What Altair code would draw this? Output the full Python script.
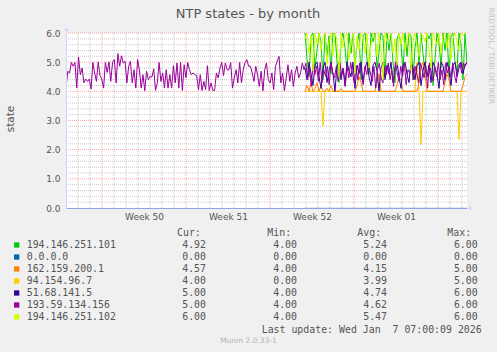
import altair as alt
import pandas as pd

# ---------------- data ----------------
TITLE = "NTP states - by month"
Y_LABEL = "state"
SERIES = ["194.146.251.101", "0.0.0.0", "162.159.200.1", "94.154.96.7",
          "51.68.141.5", "193.59.134.156", "194.146.251.102"]
COLORS = ["#00CC00", "#0066B3", "#FF8000", "#FFCC00", "#330099", "#990099", "#CCFF00"]
CUR = [4.92, 0.00, 4.57, 4.00, 5.00, 5.00, 6.00]
MIN = [4.00, 0.00, 4.00, 0.00, 4.00, 4.00, 4.00]
AVG = [5.24, 0.00, 4.15, 3.99, 4.74, 4.62, 5.47]
MAX = [6.00, 0.00, 5.00, 5.00, 6.00, 6.00, 6.00]
HEADERS = ["Cur:", "Min:", "Avg:", "Max:"]
LAST_UPDATE = "Last update: Wed Jan  7 07:00:09 2026"
VERSION = "Munin 2.0.33-1"
WATERMARK = "RRDTOOL / TOBI OETIKER"

# time axis: days since Fri 2025-12-05 00:00
X_END = 33.42
WEEK_STARTS = [3, 10, 17, 24, 31]          # Mondays 00:00
WEEK_CENTERS = [6.5, 13.5, 20.5, 27.5]
WEEK_LABELS = ["Week 50", "Week 51", "Week 52", "Week 01"]
Y_TICKS = [0, 1, 2, 3, 4, 5, 6]

# 193.59.134.156 : whole month
PURPLE_START, PURPLE_STEP = 0.0, 0.1492
PURPLE = [
    4.11, 4.69, 4.63, 4.99, 4.86, 4.99, 4.11, 5.18, 4.57, 4.80,
    4.29, 4.42, 4.34, 4.42, 4.08, 4.99, 4.63, 4.34, 5.01, 4.54,
    4.42, 4.11, 4.99, 4.65, 5.01, 4.34, 4.99, 5.09, 4.29, 5.29,
    4.86, 5.22, 4.97, 5.03, 4.29, 4.86, 5.03, 4.29, 4.74, 4.11,
    5.09, 4.74, 4.11, 4.57, 4.02, 4.69, 4.40, 4.51, 4.49, 4.77,
    4.03, 4.29, 4.99, 4.34, 4.63, 4.11, 4.74, 4.11, 4.57, 4.11,
    4.88, 4.29, 4.97, 4.11, 4.99, 4.03, 4.91, 4.46, 4.99, 4.74,
    4.57, 4.63, 4.57, 4.54, 4.06, 4.57, 4.03, 4.34, 4.06, 4.88,
    4.03, 4.29, 4.03, 4.03, 4.63, 4.46, 4.80, 4.99, 4.54, 4.97,
    4.74, 4.74, 4.99, 4.11, 4.46, 4.74, 4.29, 4.99, 4.29, 4.74,
    4.99, 5.09, 4.86,
    4.86, 4.63, 4.34, 4.86, 4.57, 4.17, 4.69, 4.02, 4.74, 4.97,
    4.40, 4.29, 4.63, 4.06, 4.86, 5.03, 5.20, 4.29, 4.63, 4.02,
    4.46, 4.91, 4.34, 4.74, 4.17, 4.63, 4.86, 4.46, 4.63, 4.97,
    4.74,
    4.97, 4.40, 4.80, 4.17, 4.97, 4.57, 4.86, 4.34, 4.99, 4.29,
    4.74, 4.51, 4.86, 4.23, 4.97, 4.63, 4.46, 4.86, 4.34, 4.97,
    4.57, 4.74, 4.17, 4.86, 4.46, 4.99, 4.63, 4.29, 4.86, 4.40,
    4.97, 4.51, 4.23, 4.86, 4.57, 4.97, 4.63, 4.34, 4.86, 4.11,
    4.74, 4.97, 4.46, 4.29, 4.86, 4.57, 4.97, 4.40, 4.74, 4.17,
    4.99, 4.63, 4.34, 4.86, 4.51, 4.97, 4.23, 4.74, 4.63, 4.97,
    4.40, 4.86, 4.57, 4.29, 4.97, 4.74, 4.46, 4.86, 4.11, 4.97,
    4.63, 4.34, 4.86, 4.51, 4.99, 4.40, 4.74, 4.23, 4.97, 4.63,
    4.86, 4.46, 4.97, 4.57, 4.29, 4.86, 4.97, 4.63, 4.97, 4.86,
    5.00,
]

# the other peers appear from ~Dec 24 22:00, 4 h step
NEW_START, NEW_STEP = 19.92, 1 / 6
GREEN = [
    6.00, 5.10, 4.50, 5.90, 6.00, 4.80, 5.40, 6.00, 5.70, 4.40,
    6.00, 5.20, 5.90, 4.60, 6.00, 6.00, 5.00, 4.30, 5.80, 6.00,
    5.50, 4.70, 6.00, 5.30, 6.00, 4.90, 5.60, 6.00, 4.40, 5.90,
    6.00, 5.10, 4.60, 6.00, 5.70, 6.00, 4.80, 5.30, 6.00, 5.90,
    4.50, 6.00, 5.40, 6.00, 5.00, 4.30, 5.80, 6.00, 5.60, 4.70,
    6.00, 5.20, 6.00, 5.90, 4.40, 5.50, 6.00, 4.90, 6.00, 5.30,
    4.60, 6.00, 5.80, 6.00, 4.20, 5.10, 6.00, 5.70, 4.80, 6.00,
    5.40, 6.00, 4.50, 5.90, 6.00, 5.00, 4.70, 6.00, 5.60, 4.40,
    6.00, 4.92,
]
BLUE = [
    0.00, 0.00, 0.00, 0.00, 0.00, 0.00, 0.00, 0.00, 0.00, 0.00,
    0.00, 0.00, 0.00, 0.00, 0.00, 0.00, 0.00, 0.00, 0.00, 0.00,
    0.00, 0.00, 0.00, 0.00, 0.00, 0.00, 0.00, 0.00, 0.00, 0.00,
    0.00, 0.00, 0.00, 0.00, 0.00, 0.00, 0.00, 0.00, 0.00, 0.00,
    0.00, 0.00, 0.00, 0.00, 0.00, 0.00, 0.00, 0.00, 0.00, 0.00,
    0.00, 0.00, 0.00, 0.00, 0.00, 0.00, 0.00, 0.00, 0.00, 0.00,
    0.00, 0.00, 0.00, 0.00, 0.00, 0.00, 0.00, 0.00, 0.00, 0.00,
    0.00, 0.00, 0.00, 0.00, 0.00, 0.00, 0.00, 0.00, 0.00, 0.00,
    0.00, 0.00,
]
ORANGE = [
    4.00, 4.20, 4.00, 4.30, 4.00, 4.10, 4.30, 4.00, 4.20, 4.00,
    4.00, 4.10, 4.00, 4.20, 4.00, 4.00, 4.00, 4.00, 4.10, 4.00,
    4.00, 4.00, 4.00, 4.00, 4.00, 4.00, 4.20, 4.50, 4.30, 4.00,
    4.00, 4.00, 4.00, 4.00, 4.00, 4.00, 4.30, 4.60, 4.00, 4.00,
    4.00, 4.00, 4.00, 4.00, 4.00, 4.00, 4.20, 4.50, 4.40, 4.00,
    4.00, 4.00, 4.00, 4.00, 4.00, 4.00, 4.00, 4.30, 4.80, 5.00,
    4.60, 4.00, 4.00, 4.00, 4.00, 4.00, 4.00, 4.00, 4.00, 4.00,
    4.30, 4.60, 4.40, 4.00, 4.00, 4.00, 4.00, 4.00, 4.00, 4.20,
    4.50, 4.57,
]
YELLOW = [
    4.00, 4.00, 4.00, 4.00, 4.00, 4.00, 4.00, 4.00, 4.00, 2.82,
    4.00, 4.00, 4.00, 4.00, 4.00, 4.00, 4.00, 4.00, 4.00, 4.00,
    4.00, 4.00, 4.00, 4.00, 4.00, 4.00, 4.00, 4.00, 4.00, 4.00,
    4.00, 4.00, 4.00, 4.00, 4.00, 4.00, 4.00, 4.00, 4.00, 4.00,
    4.00, 4.00, 4.00, 4.00, 4.00, 4.00, 4.00, 4.00, 4.00, 4.00,
    4.00, 4.00, 4.00, 4.00, 4.00, 4.00, 5.00, 4.00, 2.17, 4.00,
    4.00, 4.00, 4.00, 4.00, 4.00, 4.00, 4.00, 4.00, 4.00, 4.00,
    4.00, 4.00, 4.00, 4.00, 4.00, 4.00, 4.00, 2.34, 4.00, 4.00,
    4.00, 4.00,
]
INDIGO = [
    4.80, 4.40, 5.00, 4.60, 4.20, 4.90, 5.00, 4.50, 4.10, 4.80,
    5.00, 4.30, 4.70, 5.00, 4.60, 4.00, 4.90, 5.00, 4.40, 4.80,
    4.20, 5.00, 4.70, 4.50, 5.00, 4.10, 4.90, 4.60, 5.00, 4.30,
    4.80, 5.00, 4.50, 4.20, 4.90, 5.00, 4.70, 4.00, 4.80, 5.00,
    4.40, 4.90, 4.60, 5.00, 4.30, 4.80, 5.00, 4.50, 4.10, 4.90,
    5.00, 4.60, 4.30, 5.00, 4.80, 4.40, 4.90, 5.00, 4.20, 4.70,
    5.00, 4.50, 4.90, 4.30, 5.00, 4.80, 4.60, 4.10, 5.00, 4.90,
    4.40, 5.00, 4.70, 4.20, 4.90, 5.00, 4.50, 4.80, 5.00, 4.60,
    4.90, 5.00,
]
LIME = [
    5.80, 6.00, 5.30, 5.90, 4.70, 6.00, 5.60, 6.00, 5.40, 5.90,
    6.00, 4.90, 5.70, 6.00, 5.20, 6.00, 5.80, 4.50, 6.00, 5.50,
    5.90, 6.00, 5.10, 5.70, 6.00, 4.60, 5.90, 5.40, 6.00, 5.80,
    5.30, 6.00, 4.80, 5.60, 6.00, 5.90, 5.20, 6.00, 5.50, 4.40,
    6.00, 5.70, 5.90, 6.00, 5.30, 5.80, 4.90, 6.00, 5.60, 6.00,
    5.40, 5.90, 6.00, 4.70, 5.80, 6.00, 5.50, 5.20, 6.00, 5.90,
    5.70, 6.00, 5.40, 4.80, 6.00, 5.80, 5.60, 6.00, 5.30, 5.90,
    6.00, 5.50, 6.00, 5.10, 5.80, 6.00, 5.70, 5.40, 6.00, 5.90,
    6.00, 6.00,
]

# ---------------- layout / style ----------------
W, H = 401, 175
OX, OY = 66, 33
FONT = "DejaVu Sans"
MONO = "DejaVu Sans Mono"
TXT = "#555555"
AXIS_COL = "#CFD6F8"

xs = alt.Scale(domain=[0, X_END], nice=False, zero=False)
ys = alt.Scale(domain=[0, 6], nice=False, zero=False)


def sdf(vals, start, step):
    return pd.DataFrame({"d": [start + i * step for i in range(len(vals))], "v": vals})


layers = []

# grid
minor_y = [round(i * 0.2, 1) for i in range(1, 30) if i % 5]
minor_x = [d for d in range(1, 34) if d not in WEEK_STARTS]
layers.append(alt.Chart(pd.DataFrame({"v": minor_y})).mark_rule(
    color="#8C8C8C", strokeDash=[1, 1], strokeOpacity=0.45, strokeWidth=1
).encode(y=alt.Y("v:Q", scale=ys, axis=None)))
layers.append(alt.Chart(pd.DataFrame({"d": minor_x})).mark_rule(
    color="#8C8C8C", strokeDash=[1, 1], strokeOpacity=0.45, strokeWidth=1
).encode(x=alt.X("d:Q", scale=xs, axis=None)))
layers.append(alt.Chart(pd.DataFrame({"v": Y_TICKS[1:]})).mark_rule(
    color="#FF0000", strokeDash=[1, 1], strokeOpacity=0.35, strokeWidth=1
).encode(y=alt.Y("v:Q", scale=ys, axis=alt.Axis(
    values=Y_TICKS, format=".1f", ticks=False, grid=False, labelPadding=6,
    labelFont=FONT, labelFontSize=9, labelColor=TXT, domainColor=AXIS_COL,
    domainWidth=1, title=None, zindex=1))))

label_expr = " : ".join(
    f"datum.value < {c + 1} ? '{l}'" for c, l in zip(WEEK_CENTERS[:-1], WEEK_LABELS[:-1])
) + f" : '{WEEK_LABELS[-1]}'"
layers.append(alt.Chart(pd.DataFrame({"d": WEEK_STARTS})).mark_rule(
    color="#FF0000", strokeDash=[1, 1], strokeOpacity=0.35, strokeWidth=1
).encode(x=alt.X("d:Q", scale=xs, axis=alt.Axis(
    values=WEEK_CENTERS, labelExpr=label_expr, ticks=False, grid=False,
    labelPadding=4, labelFont=FONT, labelFontSize=9, labelColor=TXT,
    domainColor="#8FA6E6", domainWidth=1, title=None, zindex=1))))

# data lines
series_data = [
    (GREEN, NEW_START, NEW_STEP, COLORS[0], 1.0),
    (BLUE, NEW_START, NEW_STEP, COLORS[1], 0.25),
    (YELLOW, NEW_START, NEW_STEP, COLORS[3], 1.0),
    (ORANGE, NEW_START, NEW_STEP, COLORS[2], 1.0),
    (INDIGO, NEW_START, NEW_STEP, COLORS[4], 1.0),
    (PURPLE, PURPLE_START, PURPLE_STEP, COLORS[5], 1.0),
    (LIME, NEW_START, NEW_STEP, COLORS[6], 1.0),
]
for vals, st, sp, col, op in series_data:
    layers.append(alt.Chart(sdf(vals, st, sp)).mark_line(
        color=col, strokeWidth=1, clip=True, strokeOpacity=op
    ).encode(x=alt.X("d:Q", scale=xs, axis=None), y=alt.Y("v:Q", scale=ys, axis=None)))

# axis arrows
layers.append(alt.Chart(pd.DataFrame({"a": [0]})).mark_point(
    shape="triangle-up", filled=True, size=22, color=AXIS_COL, opacity=1
).encode(x=alt.value(0.5), y=alt.value(-4)))
layers.append(alt.Chart(pd.DataFrame({"a": [0]})).mark_point(
    shape="triangle-right", filled=True, size=22, color=AXIS_COL, opacity=1
).encode(x=alt.value(W + 4), y=alt.value(H)))


def text_layer(txt, x, y, size, color=TXT, font=FONT, align="center", baseline="middle", angle=0):
    return alt.Chart(pd.DataFrame({"t": [txt]})).mark_text(
        font=font, fontSize=size, color=color, align=align, baseline=baseline, angle=angle
    ).encode(text="t:N", x=alt.value(x), y=alt.value(y))


layers.append(text_layer(TITLE, 248 - OX, 18 - OY, 13, baseline="alphabetic"))
layers.append(text_layer(Y_LABEL, 11 - OX, 119 - OY, 10.5, angle=270))
layers.append(text_layer(WATERMARK, 490.5 - OX, 56 - OY, 7.5, color="#C4C4C4", angle=90))
layers.append(text_layer(VERSION, 248.5 - OX, 340.5 - OY, 7.5, color="#B4B4B4"))

# legend
leg = pd.DataFrame({
    "name": SERIES,
    "r": list(range(1, len(SERIES) + 1)),
    "cur": [f"{v:.2f}" for v in CUR],
    "min": [f"{v:.2f}" for v in MIN],
    "avg": [f"{v:.2f}" for v in AVG],
    "max": [f"{v:.2f}" for v in MAX],
})
ry = alt.Scale(domain=[0, 8], range=[233 - OY, 329 - OY])
layers.append(alt.Chart(leg).mark_square(size=28, opacity=1).encode(
    x=alt.value(16.7 - OX), y=alt.Y("r:Q", scale=ry, axis=None),
    color=alt.Color("name:N", scale=alt.Scale(domain=SERIES, range=COLORS), legend=None)))
layers.append(alt.Chart(leg).mark_text(
    font=MONO, fontSize=9.9, color=TXT, align="left", baseline="middle"
).encode(text="name:N", x=alt.value(26.7 - OX), y=alt.Y("r:Q", scale=ry, axis=None)))
for field, right in zip(["cur", "min", "avg", "max"], [206, 297, 387, 477.7]):
    layers.append(alt.Chart(leg).mark_text(
        font=MONO, fontSize=9.9, color=TXT, align="right", baseline="middle"
    ).encode(text=f"{field}:N", x=alt.value(right - OX), y=alt.Y("r:Q", scale=ry, axis=None)))
for h, left in zip(HEADERS, [177, 267.3, 357.3, 447.3]):
    layers.append(text_layer(h, left - OX, 233 - OY, 9.9, font=MONO, align="left"))
layers.append(text_layer(LAST_UPDATE.replace("  ", " \u00a0"), 261.7 - OX, 329.5 - OY, 9.9,
                         font=MONO, align="left"))

chart = alt.layer(*layers).resolve_scale(
    x="independent", y="independent", color="independent"
).properties(
    width=W, height=H,
    autosize=alt.AutoSizeParams(type="none"),
    padding={"left": OX, "top": OY, "right": 497 - OX - W, "bottom": 352 - OY - H},
).configure(background="#F0F0F0").configure_view(fill="white", strokeWidth=0)

chart.save("out.html", embed_options={"renderer": "svg", "actions": False})
